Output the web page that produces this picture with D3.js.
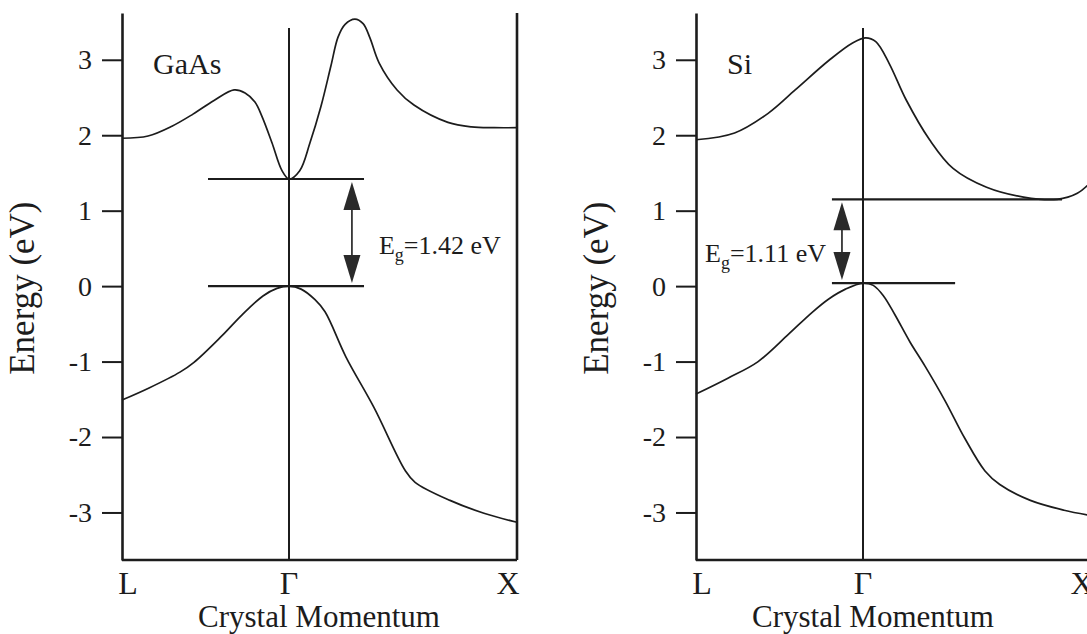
<!DOCTYPE html>
<html>
<head>
<meta charset="utf-8">
<script src="https://cdn.jsdelivr.net/npm/d3@7"></script>
<style>
  body { margin: 0; background: #fff; }
  svg { display: block; }
  text { font-family: "Liberation Serif", "Times New Roman", serif; fill: #1c1c1c; }
</style>
</head>
<body>
<svg id="chart" width="1087" height="634"></svg>
<script>
// Band-structure sketch: energy vs crystal momentum along L – Γ – X
const kLabels = ["L", "Γ", "X"];
const kValues = [-1, 0, 1];
const energyTicks = [-3, -2, -1, 0, 1, 2, 3];
const energyDomain = [-3.63, 3.62];

// GaAs bands [k, E (eV)]
const gaasConduction = [
  [-1, 1.96], [-0.844, 1.99], [-0.701, 2.12], [-0.575, 2.28], [-0.449, 2.46],
  [-0.329, 2.60], [-0.263, 2.56], [-0.204, 2.44], [-0.162, 2.25],
  [-0.102, 1.90], [-0.042, 1.53], [0, 1.42], [0.047, 1.53], [0.092, 1.90],
  [0.140, 2.38], [0.184, 2.92], [0.215, 3.30], [0.246, 3.47], [0.289, 3.54],
  [0.325, 3.48], [0.355, 3.29], [0.395, 2.96], [0.474, 2.60], [0.548, 2.40],
  [0.697, 2.17], [0.800, 2.11], [0.900, 2.10], [1, 2.10]
];
const gaasValence = [
  [-1, -1.51], [-0.838, -1.35], [-0.653, -1.14], [-0.569, -1.01], [-0.407, -0.67],
  [-0.281, -0.38], [-0.156, -0.13], [-0.072, -0.03], [0, 0], [0.053, -0.04],
  [0.114, -0.18], [0.158, -0.34], [0.25, -0.94], [0.373, -1.61], [0.509, -2.44],
  [0.553, -2.60], [0.706, -2.84], [0.855, -3.01], [1, -3.13]
];
const gaasValenceMax = 0;
const gaasGap = 1.42;

// Si bands [k, E (eV)]
const siConduction = [
  [-1, 1.94], [-0.769, 2.03], [-0.568, 2.29], [-0.406, 2.60], [-0.205, 2.99],
  [-0.065, 3.22], [0.012, 3.29], [0.056, 3.24], [0.115, 2.95], [0.189, 2.47],
  [0.292, 1.94], [0.395, 1.56], [0.542, 1.31], [0.704, 1.18], [0.852, 1.15],
  [0.940, 1.23], [1, 1.38]
];
const siValence = [
  [-1, -1.43], [-0.809, -1.22], [-0.628, -1.00], [-0.447, -0.64], [-0.306, -0.35],
  [-0.205, -0.17], [-0.105, -0.04], [0, 0.04], [0.045, 0.01], [0.09, -0.13],
  [0.14, -0.38], [0.206, -0.74], [0.272, -1.06], [0.36, -1.52], [0.447, -2.02],
  [0.535, -2.45], [0.6, -2.63], [0.734, -2.84], [0.882, -2.97], [1, -3.04]
];
const siValenceMax = 0.04;
const siConductionMinK = 0.852;
const siGap = 1.11;

const panels = [
  {
    name: "GaAs", xRange: [122, 289, 517],
    conduction: gaasConduction, valence: gaasValence,
    vbm: gaasValenceMax, gap: gaasGap, cbmK: 0,
    upperLine: [-0.485, 0.329], lowerLine: [-0.485, 0.329],
    arrowK: 0.276, labelSide: "right", titleDx: 30
  },
  {
    name: "Si", xRange: [696, 863, 1091],
    conduction: siConduction, valence: siValence,
    vbm: siValenceMax, gap: siGap, cbmK: siConductionMinK,
    upperLine: [-0.186, 0.873], lowerLine: [-0.186, 0.404],
    arrowK: -0.126, labelSide: "left", titleDx: 10
  }
];

const svg = d3.select("#chart");
const y = d3.scaleLinear().domain(energyDomain).range([560, 13]);
const ink = "#1c1c1c";

panels.forEach(p => {
  const x = d3.scaleLinear().domain(kValues).range(p.xRange);
  const g = svg.append("g");
  const x0 = x(-1), xG = x(0), x1 = x(1);
  const yBottom = y(energyDomain[0]), yTop = y(energyDomain[1]);

  // energy axis with outward ticks
  const axis = d3.axisLeft(y).tickValues(energyTicks).tickSize(20).tickSizeOuter(0)
    .tickPadding(10).tickFormat(d => String(d));
  const ag = g.append("g").attr("transform", `translate(${x0},0)`).call(axis);
  ag.select(".domain").attr("stroke", ink).attr("stroke-width", 2.6);
  ag.selectAll(".tick line").attr("stroke", ink).attr("stroke-width", 2);
  ag.selectAll(".tick text").attr("font-size", 28).attr("fill", ink)
    .attr("font-family", "'Liberation Serif', serif");

  // frame: bottom and right edges
  g.append("line").attr("x1", x0).attr("x2", x1).attr("y1", yBottom).attr("y2", yBottom)
    .attr("stroke", ink).attr("stroke-width", 2.6);
  g.append("line").attr("x1", x1).attr("x2", x1).attr("y1", yTop).attr("y2", yBottom)
    .attr("stroke", ink).attr("stroke-width", 2.6);

  // Γ line
  g.append("line").attr("x1", xG).attr("x2", xG).attr("y1", y(3.42)).attr("y2", yBottom)
    .attr("stroke", ink).attr("stroke-width", 2);

  // bands
  const line = d3.line().x(d => x(d[0])).y(d => y(d[1])).curve(d3.curveCatmullRom.alpha(0.5));
  [p.conduction, p.valence].forEach(band => {
    g.append("path").attr("d", line(band)).attr("fill", "none")
      .attr("stroke", ink).attr("stroke-width", 1.7);
  });

  // band-edge lines
  const cbm = p.vbm + p.gap;
  g.append("line").attr("x1", x(p.upperLine[0])).attr("x2", x(p.upperLine[1]))
    .attr("y1", y(cbm)).attr("y2", y(cbm)).attr("stroke", ink).attr("stroke-width", 2.2);
  g.append("line").attr("x1", x(p.lowerLine[0])).attr("x2", x(p.lowerLine[1]))
    .attr("y1", y(p.vbm)).attr("y2", y(p.vbm)).attr("stroke", ink).attr("stroke-width", 2.2);

  // double-headed gap arrow
  const ax = x(p.arrowK);
  const tipTop = y(cbm) + 3, tipBot = y(p.vbm) - 3;
  const headLen = 28, headHalf = 8.5;
  g.append("line").attr("x1", ax).attr("x2", ax).attr("y1", tipTop + headLen - 2).attr("y2", tipBot - headLen + 2)
    .attr("stroke", ink).attr("stroke-width", 1.6);
  g.append("path").attr("fill", "#2a2a2a")
    .attr("d", `M${ax},${tipTop}L${ax - headHalf},${tipTop + headLen}L${ax + headHalf},${tipTop + headLen}Z`);
  g.append("path").attr("fill", "#2a2a2a")
    .attr("d", `M${ax},${tipBot}L${ax - headHalf},${tipBot - headLen}L${ax + headHalf},${tipBot - headLen}Z`);

  // gap label
  const mid = y(p.vbm + p.gap / 2) + 21;
  const lbl = g.append("text").attr("font-size", 26)
    .attr("x", p.labelSide === "right" ? ax + 27 : ax - 16)
    .attr("y", mid)
    .attr("text-anchor", p.labelSide === "right" ? "start" : "end");
  lbl.append("tspan").text("E");
  lbl.append("tspan").attr("font-size", 18).attr("dy", 7).text("g");
  lbl.append("tspan").attr("dy", -7).text(`=${p.gap.toFixed(2)} eV`);

  // material name
  g.append("text").attr("x", x0 + 31).attr("y", 74).attr("font-size", 30).text(p.name);

  // k-point labels
  const kOffsets = [6, 0, -9];
  kLabels.forEach((t, i) => {
    g.append("text").attr("x", x(kValues[i]) + kOffsets[i]).attr("y", 594)
      .attr("text-anchor", "middle").attr("font-size", 32).text(t);
  });

  // axis titles
  g.append("text").attr("x", xG + p.titleDx).attr("y", 627)
    .attr("text-anchor", "middle").attr("font-size", 31).text("Crystal Momentum");
  g.append("text").attr("transform", `translate(${x0 - 88},${y(0) + 2}) rotate(-90)`)
    .attr("text-anchor", "middle").attr("font-size", 35).text("Energy (eV)");
});
</script>
</body>
</html>
